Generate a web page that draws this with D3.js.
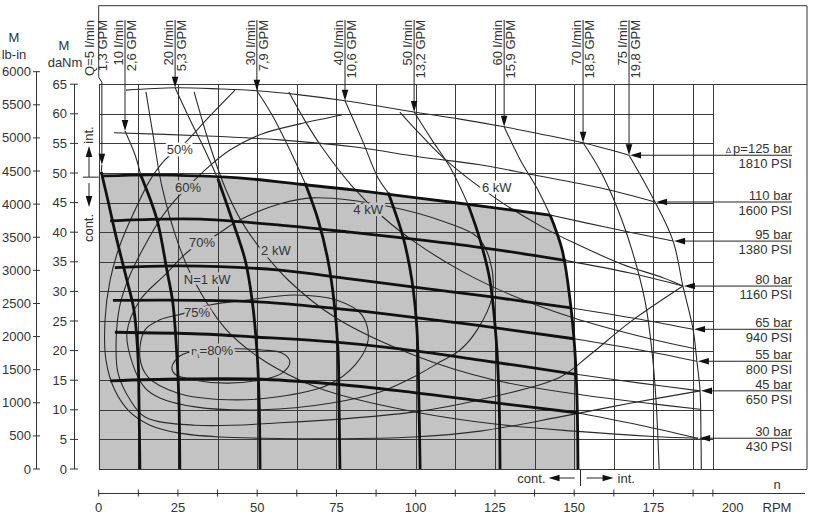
<!DOCTYPE html>
<html>
<head>
<meta charset="utf-8">
<title>Motor characteristic</title>
<script src="https://cdn.jsdelivr.net/npm/d3@7"></script>
<style>
    body { margin: 0; background: #fff; }
    svg { display: block; font-family: "Liberation Sans", Arial, sans-serif; }
    .grid { stroke: #3a3a3a; stroke-width: 1; shape-rendering: crispEdges; }
    .thin { fill: none; stroke: #2a2a2a; stroke-width: 1.1; }
    .thick { fill: none; stroke: #111; stroke-width: 2.8; }
    .lbl { font-size: 13px; fill: #333; }
    .halo { paint-order: stroke; stroke-width: 5; stroke-linejoin: round; }
</style>
</head>
<body>
<script>
// axis values
var rpmTicks = [0, 12.5, 25, 37.5, 50, 62.5, 75, 87.5, 100, 112.5, 125, 137.5, 150, 162.5, 175, 187.5, 193.75];
var rpmLabels = [0, 25, 50, 75, 100, 125, 150, 175, 200];
var daNmTicks = [0, 5, 10, 15, 20, 25, 30, 35, 40, 45, 50, 55, 60, 65];
var lbinTicks = [0, 500, 1000, 1500, 2000, 2500, 3000, 3500, 4000, 4500, 5000, 5500, 6000];

// flow and pressure labels
var flowLpm = [5, 10, 20, 30, 40, 50, 60, 70, 75];
var flowGpm = ["1,3", "2,6", "5,3", "7,9", "10,6", "13,2", "15,9", "18,5", "19,8"];
var pressBar = [125, 110, 95, 80, 65, 55, 45, 30];
var pressPsi = [1810, 1600, 1380, 1160, 940, 800, 650, 430];

// flow curves [rpm, daNm]; "Int" = intermittent (thin), "Cont" = continuous (thick)
var q5Int = [[1.0, 51.4], [0.8, 50.2]];
var q5Cont = [[0.8, 50.2], [2.9, 45.4], [5.5, 39.2], [8.9, 31.9], [11.1, 26.9], [12.4, 18.9], [12.7, 11.7], [13.0, 0]];
var q10Int = [[8.3, 57.1], [11.5, 53.0], [13.3, 49.6]];
var q10Cont = [[13.3, 49.6], [18.4, 42.1], [21.5, 33.6], [23.4, 28.0], [24.7, 18.9], [25.3, 11.7], [25.6, 0]];
var q20Int = [[24.1, 64.4], [28.8, 59.0], [33.5, 53.9], [37.6, 49.0]];
var q20Cont = [[37.6, 49.0], [42.1, 42.1], [46.2, 35.3], [48.4, 28.5], [49.9, 20.1], [50.6, 11.7], [50.9, 0]];
var q30Int = [[49.9, 63.9], [54.7, 59.8], [60.3, 53.9], [65.1, 48.3]];
var q30Cont = [[65.1, 48.3], [69.2, 42.1], [72.3, 35.3], [74.2, 28.5], [75.5, 20.1], [75.8, 11.7], [76.1, 0]];
var q40Int = [[77.7, 62.2], [83.1, 55.6], [88.1, 49.2], [91.3, 46.7]];
var q40Cont = [[91.3, 46.7], [96.0, 39.2], [98.8, 31.9], [100.4, 23.5], [101.0, 11.7], [101.4, 0]];
var q50Int = [[99.5, 60.3], [105.1, 55.6], [110.8, 51.0], [116.5, 44.7]];
var q50Cont = [[116.5, 44.7], [120.3, 38.7], [123.4, 31.9], [125.4, 21.8], [126.3, 11.7], [126.6, 0]];
var q60Int = [[127.9, 57.8], [133.0, 52.2], [138.6, 47.1], [142.4, 42.9]];
var q60Cont = [[142.4, 42.9], [146.2, 37.0], [148.7, 28.5], [150.2, 20.1], [150.9, 11.7], [151.2, 0]];
var q70Int = [[152.8, 55.1], [158.1, 50.5], [163.8, 43.8], [168.2, 37.0], [172.3, 28.5], [174.5, 20.1], [175.8, 11.7], [176.8, 0]];
var q75Int = [[167.3, 53.0], [175.5, 45.1], [181.2, 38.5], [184.3, 30.9], [187.5, 23.6], [188.7, 18.2], [189.7, 13.2], [190.0, 5.2], [190.1, 0]];

// pressure curves [rpm, daNm]
var p125Int = [[8.6, 64.0], [24.1, 64.4], [38.3, 64.2], [49.9, 63.9], [63.5, 63.2], [77.7, 62.2], [99.5, 60.3], [114.0, 59.1], [127.9, 57.8], [139.2, 56.6], [152.8, 55.1], [167.3, 53.0]];
var p110Int = [[4.8, 56.8], [32.0, 56.3], [57.2, 55.6], [80.9, 54.4], [101.4, 52.7], [120.3, 51.4], [137.0, 49.7], [158.1, 47.5], [175.5, 45.1]];
var p95Cont = [[1.4, 49.5], [16.2, 49.7], [32.0, 49.5], [47.7, 49.0], [63.5, 48.1], [80.9, 47.1], [110.8, 45.1], [142.4, 42.9]];
var p95Int = [[142.4, 42.9], [161.3, 40.7], [181.2, 38.5]];
var p80Cont = [[3.6, 41.9], [19.3, 42.2], [32.0, 42.2], [57.2, 41.2], [79.3, 40.0], [101.4, 38.7], [123.4, 37.2], [147.5, 35.2]];
var p80Int = [[147.5, 35.2], [167.6, 33.1], [184.3, 30.9]];
var p65Cont = [[5.1, 34.0], [25.6, 34.3], [57.2, 33.6], [79.3, 32.1], [101.4, 30.6], [123.4, 29.1], [149.0, 27.2]];
var p65Int = [[149.0, 27.2], [170.8, 25.3], [187.5, 23.6]];
var p55Cont = [[4.5, 28.5], [32.0, 28.5], [51.5, 28.2], [73.0, 27.2], [93.5, 26.0], [120.3, 24.2], [149.9, 22.0]];
var p55Int = [[149.9, 22.0], [170.8, 20.1], [188.7, 18.2]];
var p45Cont = [[5.1, 23.1], [32.0, 22.8], [49.3, 22.3], [73.0, 21.5], [95.0, 20.3], [120.3, 18.4], [150.6, 16.0]];
var p45Int = [[150.6, 16.0], [170.8, 14.5], [189.7, 13.2]];
var p30Cont = [[3.6, 14.9], [25.6, 15.2], [49.3, 15.2], [73.0, 14.4], [95.0, 13.2], [120.3, 11.5], [150.9, 9.5]];
var p30Int = [[150.9, 9.5], [170.8, 7.4], [189.1, 5.2]];

// power curves [rpm, daNm]
var kw1 = [[14.9, 63.7], [17.4, 55.6], [20.0, 47.6], [25.0, 38.2], [30.1, 31.8], [39.8, 23.8], [49.9, 19.1], [63.5, 15.0], [74.9, 12.7], [100.1, 9.6], [125.0, 7.6], [149.9, 6.4], [174.9, 5.5], [189.1, 5.2]];
var kw2 = [[30.1, 63.7], [35.1, 54.6], [40.2, 47.1], [45.2, 41.7], [49.9, 38.0], [60.0, 31.8], [74.9, 25.5], [100.1, 19.1], [125.0, 15.0], [149.9, 12.7], [174.9, 11.0], [189.7, 10.1]];
var kw4 = [[60.0, 63.7], [65.1, 58.8], [70.1, 54.6], [79.9, 47.8], [90.0, 42.4], [100.1, 38.2], [114.9, 33.3], [130.1, 29.4], [149.9, 25.5], [170.1, 22.5], [188.1, 20.3]];
var kw6 = [[95.0, 60.3], [100.1, 57.3], [109.9, 52.0], [125.0, 45.8], [139.9, 40.9], [149.9, 38.2], [165.1, 34.6], [178.0, 32.3], [184.3, 30.9]];

// efficiency contours [rpm, daNm]
var eff50 = [[43.0, 64.0], [34.5, 59.3], [27.2, 55.1], [20.9, 52.2], [16.2, 48.8], [11.5, 43.8], [6.7, 37.8], [3.6, 31.9], [2.0, 25.2], [2.3, 18.4], [5.1, 13.3], [9.9, 9.6], [16.2, 7.4], [25.0, 6.1], [38.3, 5.4], [51.5, 5.2], [73.0, 5.1], [99.2, 5.4], [120.3, 6.4], [145.5, 8.8], [167.6, 11.1], [189.7, 13.2]];
var eff60 = [[76.7, 59.8], [63.5, 58.3], [51.5, 56.6], [41.4, 53.9], [33.5, 50.5], [24.1, 45.4], [19.3, 42.1], [14.6, 37.8], [9.9, 32.8], [6.7, 27.7], [5.5, 21.8], [6.1, 16.2], [9.9, 11.7], [14.6, 8.8], [30.4, 7.4], [57.2, 7.8], [99.2, 9.6], [120.3, 11.7], [145.5, 15.5], [155.0, 19.3], [167.6, 24.8], [184.3, 30.9]];
var eff70 = [[36.1, 39.2], [44.6, 42.1], [57.2, 44.8], [67.6, 45.8], [91.9, 44.3], [109.9, 41.6], [119.4, 39.2], [123.4, 35.3], [124.1, 29.1], [119.4, 23.5], [114.0, 20.1], [107.7, 18.1], [99.2, 15.5], [88.7, 13.0], [73.0, 11.1], [51.5, 10.0], [30.4, 10.5], [19.3, 12.0], [14.6, 13.7], [10.8, 17.6], [8.9, 23.0], [13.0, 28.5], [20.9, 32.8], [28.8, 37.0]];
var eff75 = [[26.3, 26.2], [35.1, 27.7], [46.2, 28.5], [61.9, 29.4], [75.2, 28.5], [83.1, 26.0], [85.0, 21.8], [80.9, 17.6], [72.3, 14.2], [56.6, 12.2], [40.8, 11.7], [25.0, 12.8], [15.6, 15.5], [13.0, 18.9], [14.6, 23.5], [19.3, 25.2]];
var eff80 = [[23.1, 17.2], [25.6, 19.1], [32.0, 20.1], [43.0, 20.3], [51.5, 20.1], [57.8, 19.6], [60.3, 18.1], [57.8, 16.2], [52.5, 15.2], [40.8, 14.5], [30.4, 15.0], [24.1, 16.0]];

var curveLabels = [
    {t: "50%", n: 25.6, m: 53.9},
    {t: "60%", n: 28.2, m: 47.6},
    {t: "70%", n: 32.6, m: 38.3},
    {t: "N=1 kW", n: 34.2, m: 32.1},
    {t: "2 kW", n: 55.9, m: 37.0},
    {t: "4 kW", n: 85.0, m: 43.8},
    {t: "6 kW", n: 125.6, m: 47.5},
    {t: "75%", n: 31.0, m: 26.5}
];

var qInt = [q5Int, q10Int, q20Int, q30Int, q40Int, q50Int, q60Int, q70Int, q75Int];
var qCont = [q5Cont, q10Cont, q20Cont, q30Cont, q40Cont, q50Cont, q60Cont];
var pInt = [p125Int, p110Int, p95Int, p80Int, p65Int, p55Int, p45Int, p30Int];
var pCont = [p95Cont, p80Cont, p65Cont, p55Cont, p45Cont, p30Cont];

var W = 813, H = 517, frameRight = 807, frameTop = 5.7;
var shade = "#c3c3c3";

var svg = d3.select("body").append("svg").attr("width", W).attr("height", H);

var x = d3.scaleLinear().domain([0, 200]).range([98.7, 732.7]);
var y = d3.scaleLinear().domain([0, 65]).range([469, 84.2]);
var yLb = d3.scaleLinear().domain([0, 6000]).range([469, 71.7]);

var line = d3.line().x(function (d) {return x(d[0]);}).y(function (d) {return y(d[1]);})
    .curve(d3.curveCatmullRom.alpha(0.5));
var loop = d3.line().x(function (d) {return x(d[0]);}).y(function (d) {return y(d[1]);})
    .curve(d3.curveCatmullRomClosed.alpha(0.5));
var poly = d3.line().x(function (d) {return x(d[0]);}).y(function (d) {return y(d[1]);});

function arrow(g, px, py, dir) {
    var L = 11, w = 3.3, pts;
    if (dir === "down") pts = [[px, py], [px - w, py - L], [px + w, py - L]];
    else if (dir === "up") pts = [[px, py], [px - w, py + L], [px + w, py + L]];
    else if (dir === "left") pts = [[px, py], [px + L, py - w], [px + L, py + w]];
    else pts = [[px, py], [px - L, py - w], [px - L, py + w]];
    g.append("path").attr("d", "M" + pts.join("L") + "Z").attr("fill", "#111");
}

function topAt(n) {
    for (var i = 1; i < p95Cont.length; i++) {
        var a = p95Cont[i - 1], b = p95Cont[i];
        if (n <= b[0]) return a[1] + (b[1] - a[1]) * (n - a[0]) / (b[0] - a[0]);
    }
    return -1;
}

// continuous operation area
svg.append("path")
    .attr("d", poly([[0, 0], [0, 49.3]].concat(p95Cont, q60Cont)) + "Z")
    .attr("fill", shade);

// grid
var gGrid = svg.append("g");
daNmTicks.forEach(function (v) {
    var yy = Math.round(y(v)) + 0.5;
    gGrid.append("line").attr("class", "grid")
        .attr("x1", x(0)).attr("x2", (v === 0 || v === 65) ? frameRight : x(193.75))
        .attr("y1", yy).attr("y2", yy);
});
rpmTicks.forEach(function (v) {
    var xx = Math.round(x(v)) + 0.5;
    gGrid.append("line").attr("class", "grid")
        .attr("x1", xx).attr("x2", xx).attr("y1", y(0)).attr("y2", y(65));
});

// frame
svg.append("path")
    .attr("d", "M" + x(0) + "," + (y(65) - 7) + "V" + frameTop + "H" + frameRight + "V" + y(0))
    .attr("fill", "none").attr("stroke", "#333").attr("stroke-width", 1);

// thin curves
var gThin = svg.append("g");
[eff50, eff60, kw1, kw2, kw4, kw6].concat(qInt, pInt).forEach(function (d) {
    gThin.append("path").attr("class", "thin").attr("d", line(d));
});
[eff70, eff75, eff80].forEach(function (d) {
    gThin.append("path").attr("class", "thin").attr("d", loop(d));
});

// thick curves
var gThick = svg.append("g");
pCont.concat(qCont).forEach(function (d) {
    gThick.append("path").attr("class", "thick").attr("d", line(d));
});

// curve labels
curveLabels.forEach(function (l) {
    var inShade = l.m < topAt(l.n);
    svg.append("text").attr("class", "lbl halo")
        .attr("x", x(l.n)).attr("y", y(l.m)).attr("dy", "0.35em")
        .attr("text-anchor", "middle")
        .attr("stroke", inShade ? shade : "#fff")
        .text(l.t);
});
var eta = svg.append("text").attr("class", "lbl halo")
    .attr("x", x(35.8)).attr("y", y(20.1)).attr("dy", "0.35em")
    .attr("text-anchor", "middle").attr("stroke", shade);
eta.append("tspan").attr("font-size", 11).text("η");
eta.append("tspan").attr("font-size", 8).attr("dy", 3).text("t");
eta.append("tspan").attr("dy", -3).text("=80%");

// flow arrows and labels
var gQ = svg.append("g");
var qTop = 20;
flowLpm.forEach(function (q, i) {
    var tip = qInt[i][0], tx = x(tip[0]), ty = y(tip[1]);
    var lx = i === 0 ? x(0) - 3 : tx;
    if (i === 0) {
        gQ.append("path").attr("fill", "none").attr("stroke", "#222").attr("stroke-width", 1)
            .attr("d", "M" + x(0) + "," + (y(65) - 7) + "L" + tx + "," + (y(65) - 2) + "V" + (ty - 6));
    } else {
        gQ.append("line").attr("stroke", "#222").attr("stroke-width", 1)
            .attr("x1", tx).attr("x2", tx).attr("y1", qTop).attr("y2", ty - 6);
    }
    arrow(gQ, tx, ty, "down");
    gQ.append("text").attr("class", "lbl").attr("font-size", 12.5)
        .attr("transform", "translate(" + (lx - 2) + "," + qTop + ") rotate(-90)")
        .attr("text-anchor", "end")
        .text((i === 0 ? "Q=" : "") + q + " l/min");
    gQ.append("text").attr("class", "lbl").attr("font-size", 12.5)
        .attr("transform", "translate(" + (lx + 11) + "," + qTop + ") rotate(-90)")
        .attr("text-anchor", "end")
        .text(flowGpm[i] + " GPM");
});

// pressure arrows and labels
var gP = svg.append("g");
var labelRight = 792;
pressBar.forEach(function (p, i) {
    var pts = pInt[i], tip = pts[pts.length - 1], tx = x(tip[0]) + 1, ty = y(tip[1]);
    gP.append("line").attr("stroke", "#222").attr("stroke-width", 1)
        .attr("x1", tx + 6).attr("x2", labelRight).attr("y1", ty).attr("y2", ty);
    arrow(gP, tx, ty, "left");
    var top = gP.append("text").attr("class", "lbl").attr("text-anchor", "end")
        .attr("x", labelRight).attr("y", ty - 2);
    if (i === 0) {
        top.append("tspan").attr("font-size", 8).text("∆ ");
        top.append("tspan").text("p=" + p + " bar");
    } else {
        top.text(p + " bar");
    }
    gP.append("text").attr("class", "lbl").attr("text-anchor", "end")
        .attr("x", labelRight).attr("y", ty + 13).text(pressPsi[i] + " PSI");
});

// left axes
var gAx = svg.append("g").attr("stroke", "#333").attr("stroke-width", 1);
gAx.append("line").attr("x1", 36.5).attr("x2", 36.5).attr("y1", yLb(6000)).attr("y2", yLb(0));
gAx.append("line").attr("x1", 74.5).attr("x2", 74.5).attr("y1", y(65)).attr("y2", y(0));
lbinTicks.forEach(function (v) {
    gAx.append("line").attr("x1", 33).attr("x2", 40).attr("y1", yLb(v)).attr("y2", yLb(v));
    svg.append("text").attr("class", "lbl").attr("text-anchor", "end")
        .attr("x", 31).attr("y", yLb(v)).attr("dy", "0.35em").text(v);
});
daNmTicks.forEach(function (v) {
    gAx.append("line").attr("x1", 70).attr("x2", 78).attr("y1", y(v)).attr("y2", y(v));
    svg.append("text").attr("class", "lbl").attr("text-anchor", "end")
        .attr("x", 67).attr("y", y(v)).attr("dy", "0.35em").text(v);
});
svg.append("text").attr("class", "lbl").attr("text-anchor", "middle").attr("x", 14).attr("y", 42).text("M");
svg.append("text").attr("class", "lbl").attr("text-anchor", "middle").attr("x", 14).attr("y", 59).text("lb-in");
svg.append("text").attr("class", "lbl").attr("text-anchor", "middle").attr("x", 64).attr("y", 50).text("M");
svg.append("text").attr("class", "lbl").attr("text-anchor", "middle").attr("x", 65).attr("y", 67).text("daNm");

// int. / cont. marks along torque axis
var sepY = y(49.3);
var gMk = svg.append("g");
gMk.append("line").attr("stroke", "#222").attr("x1", 83).attr("x2", x(0)).attr("y1", sepY).attr("y2", sepY);
gMk.append("line").attr("stroke", "#222").attr("x1", 89).attr("x2", 89).attr("y1", sepY).attr("y2", 155);
arrow(gMk, 89, 146, "up");
gMk.append("line").attr("stroke", "#222").attr("x1", 89).attr("x2", 89).attr("y1", sepY + 6).attr("y2", 198);
arrow(gMk, 89, 207, "down");
gMk.append("text").attr("class", "lbl").attr("text-anchor", "middle")
    .attr("transform", "translate(93,135) rotate(-90)").text("int.");
gMk.append("text").attr("class", "lbl").attr("text-anchor", "middle")
    .attr("transform", "translate(93,228) rotate(-90)").text("cont.");

// rpm axis
var axY = 493.5;
var gX = svg.append("g").attr("stroke", "#333").attr("stroke-width", 1);
gX.append("line").attr("x1", x(0)).attr("x2", 805).attr("y1", axY).attr("y2", axY);
rpmTicks.forEach(function (v) {
    gX.append("line").attr("x1", x(v)).attr("x2", x(v)).attr("y1", axY - 4).attr("y2", axY + 3);
});
rpmLabels.forEach(function (v) {
    svg.append("text").attr("class", "lbl").attr("text-anchor", "middle")
        .attr("x", x(v)).attr("y", 512).text(v);
});
svg.append("text").attr("class", "lbl").attr("text-anchor", "middle").attr("x", 777).attr("y", 489).text("n");
svg.append("text").attr("class", "lbl").attr("text-anchor", "middle").attr("x", 777).attr("y", 512).text("RPM");

// cont. / int. marks along speed axis
var sepX = x(152);
svg.append("line").attr("stroke", "#222").attr("x1", sepX).attr("x2", sepX).attr("y1", y(0)).attr("y2", 486);
svg.append("line").attr("stroke", "#222").attr("x1", sepX - 6).attr("x2", sepX - 25).attr("y1", 478).attr("y2", 478);
arrow(svg, sepX - 32, 478, "left");
svg.append("line").attr("stroke", "#222").attr("x1", sepX + 6).attr("x2", sepX + 25).attr("y1", 478).attr("y2", 478);
arrow(svg, sepX + 33, 478, "right");
svg.append("text").attr("class", "lbl").attr("text-anchor", "end").attr("x", sepX - 35).attr("y", 483).text("cont.");
svg.append("text").attr("class", "lbl").attr("x", sepX + 37).attr("y", 483).text("int.");
</script>
</body>
</html>
